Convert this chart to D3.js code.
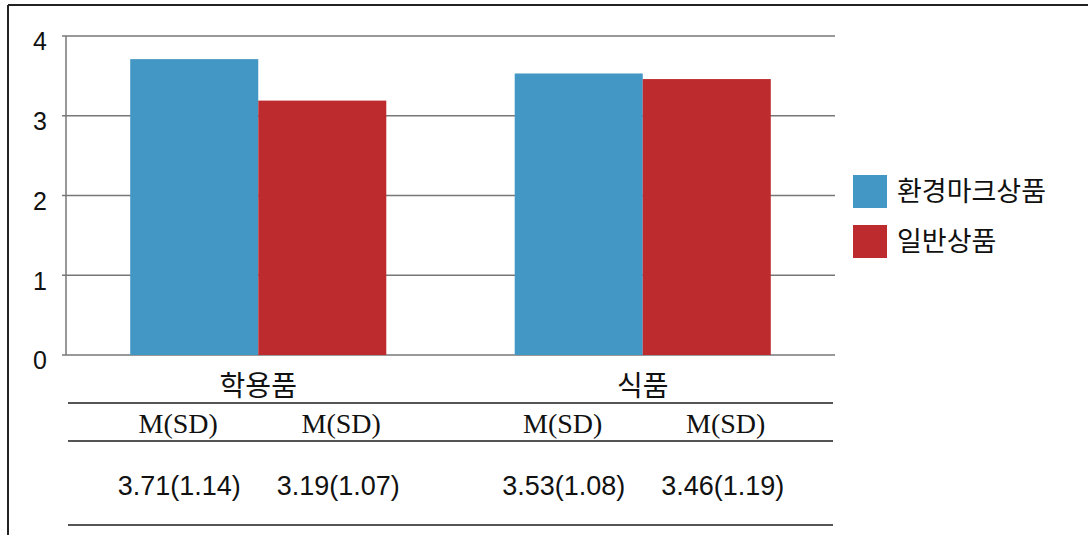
<!DOCTYPE html>
<html><head><meta charset="utf-8">
<script src="https://cdn.jsdelivr.net/npm/d3@7"></script>
<style>body{margin:0;background:#fff}</style>
</head><body>
<svg id="c" width="1088" height="535"></svg>
<script>
const categories = ["학용품", "식품"];
const seriesNames = ["환경마크상품", "일반상품"];
const ecoValues = [3.71, 3.53];
const normalValues = [3.19, 3.46];
const ecoSD = [1.14, 1.08];
const normalSD = [1.07, 1.19];
const yTicks = [0, 1, 2, 3, 4];
const colors = ["#4397C4", "#BD2B2E"];

const svg = d3.select("#c");
const mLeft = 66, mRight = 835, mTop = 36, mBottom = 355;

// frame
svg.append("line").attr("x1", 8).attr("x2", 1088).attr("y1", 5).attr("y2", 5).attr("stroke", "#222").attr("stroke-width", 2);
svg.append("line").attr("x1", 8).attr("x2", 8).attr("y1", 5).attr("y2", 535).attr("stroke", "#222").attr("stroke-width", 2);

const y = d3.scaleLinear().domain([0, 4]).range([mBottom, mTop]);
const x0 = d3.scaleBand().domain(categories).range([mLeft, mRight]).paddingInner(0.334).paddingOuter(0.167);
const x1 = d3.scaleBand().domain(seriesNames).range([0, x0.bandwidth()]);

// gridlines
svg.append("g").selectAll("line").data(yTicks).join("line")
  .attr("x1", mLeft - 4).attr("x2", mRight).attr("y1", d => y(d)).attr("y2", d => y(d))
  .attr("stroke", "#777").attr("stroke-width", 1.5);
svg.append("line").attr("x1", mLeft).attr("x2", mLeft).attr("y1", mTop).attr("y2", mBottom).attr("stroke", "#777").attr("stroke-width", 1.5);

// y labels
const yAxis = d3.axisLeft(y).tickValues(yTicks).tickFormat(d3.format("d")).tickSize(0).tickPadding(15);
const ya = svg.append("g").attr("transform", `translate(${mLeft - 4},0)`).call(yAxis);
ya.select(".domain").remove();
ya.selectAll("text").attr("font-family", "Liberation Sans, Arial, sans-serif").attr("font-size", 25).attr("fill", "#111").attr("dy", "0.55em");

// bars
const rows = categories.map((c, i) => ({cat: c, vals: [ecoValues[i], normalValues[i]]}));
const g = svg.append("g").selectAll("g").data(rows).join("g").attr("transform", d => `translate(${x0(d.cat)},0)`);
g.selectAll("rect").data(d => d.vals.map((v, j) => ({s: seriesNames[j], v, j}))).join("rect")
  .attr("x", d => x1(d.s)).attr("width", x1.bandwidth())
  .attr("y", d => y(d.v)).attr("height", d => y(0) - y(d.v))
  .attr("fill", d => colors[d.j]);

// category labels
svg.append("g").selectAll("text").data(categories).join("text")
  .attr("x", d => x0(d) + x0.bandwidth() / 2).attr("y", 396)
  .attr("text-anchor", "middle").attr("font-family", "Noto Sans CJK KR").attr("font-size", 28).attr("fill", "#111")
  .text(d => d);

// table lines
[403, 441, 525].forEach(yy => {
  svg.append("line").attr("x1", 68).attr("x2", 833).attr("y1", yy).attr("y2", yy).attr("stroke", "#555").attr("stroke-width", 2);
});

// table text
const cells = [];
categories.forEach((c, i) => {
  const cx = x0(c) + x0.bandwidth() / 2;
  cells.push({hx: cx - 80, vx: cx - 79, t: `${ecoValues[i].toFixed(2)}(${ecoSD[i].toFixed(2)})`});
  cells.push({hx: cx + 83, vx: cx + 80, t: `${normalValues[i].toFixed(2)}(${normalSD[i].toFixed(2)})`});
});
svg.append("g").selectAll("text").data(cells).join("text")
  .attr("x", d => d.hx).attr("y", 433).attr("text-anchor", "middle")
  .attr("font-family", "Liberation Serif, serif").attr("font-size", 28).attr("fill", "#111").text("M(SD)");
svg.append("g").selectAll("text").data(cells).join("text")
  .attr("x", d => d.vx).attr("y", 495).attr("text-anchor", "middle")
  .attr("font-family", "Liberation Sans, Arial, sans-serif").attr("font-size", 27).attr("fill", "#111").text(d => d.t);

// legend
const lg = svg.append("g").selectAll("g").data(seriesNames).join("g")
  .attr("transform", (d, i) => `translate(853,${175 + i * 50})`);
lg.append("rect").attr("width", 34).attr("height", 33).attr("fill", (d, i) => colors[i]);
lg.append("text").attr("x", 44).attr("y", 26).attr("font-family", "Noto Sans CJK KR").attr("font-size", 27).attr("fill", "#111").text(d => d);
</script>
</body></html>
